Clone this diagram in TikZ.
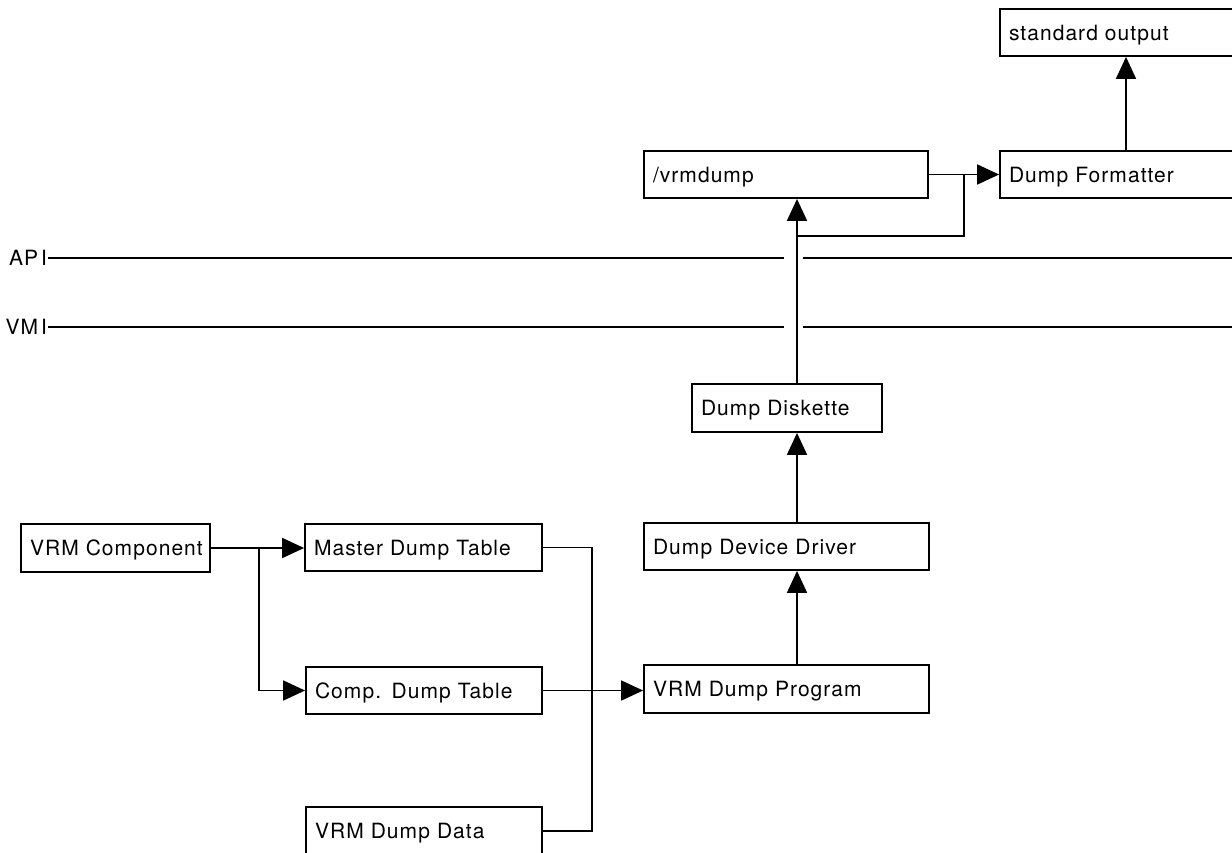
\documentclass[tikz,border=0pt]{standalone}
\usepackage{fontspec}
\setmainfont{TeX Gyre Heros}[LetterSpace=5]
\usetikzlibrary{arrows.meta}
\tikzset{
  diag/.style={x=0.5pt,y=-0.5pt,line width=0.9pt},
  box/.style={draw,line width=0.9pt,inner xsep=4.5pt,inner ysep=0pt,align=left,
    text height=9pt,text depth=1.5pt,font=\fontsize{10.5}{12}\selectfont},
  lbl/.style={inner sep=0pt,text height=7.5pt,text depth=0pt,font=\fontsize{10.5}{12}\selectfont},
  arr/.style={-{Triangle[length=11pt,width=10pt]}},
  conn/.style={line width=0.9pt}
}
\begin{document}
\begin{tikzpicture}[diag]
\useasboundingbox (0,0) rectangle (1232,852);
% boxes
\node[box,minimum width=120pt,minimum height=23.5pt,text width=111pt] (stdout) at (1120,32.5) {standard output};
\node[box,minimum width=120pt,minimum height=23.5pt,text width=111pt] (fmt) at (1120,174.5) {Dump Formatter};
\node[box,minimum width=142pt,minimum height=23.5pt,text width=133pt] (vrm) at (786,174.5) {/vrmdump};
\node[box,minimum width=95pt,minimum height=24pt,text width=86pt] (disk) at (787,408) {Dump Diskette};
\node[box,minimum width=142.5pt,minimum height=23.5pt,text width=133.5pt] (ddd) at (786.5,546.5) {Dump Device Driver};
\node[box,minimum width=142.5pt,minimum height=24pt,text width=133.5pt] (vdp) at (786.5,689) {VRM Dump Program};
\node[box,minimum width=94.5pt,minimum height=24pt,text width=85.5pt] (comp) at (115.5,548) {VRM Component};
\node[box,minimum width=118.5pt,minimum height=23.5pt,text width=109.5pt] (mdt) at (423.5,547.5) {Master Dump Table};
\node[box,minimum width=118pt,minimum height=23.5pt,text width=109pt] (cdt) at (424,690.5) {Comp. Dump Table};
\node[box,minimum width=118pt,minimum height=24pt,text width=109pt] (vdd) at (424,831) {VRM Dump Data};
% interface labels
\node[lbl,anchor=east] (api) at (48,258) {AP\kern1.5pt I};
\node[lbl,anchor=east] (vmi) at (48,327) {VM\kern1.5pt I};
% helper coordinates
\coordinate (gapL) at (784,0);
\coordinate (gapR) at (803,0);
\coordinate (edge) at (1232,0);
\coordinate (c1) at (797,0);
\coordinate (c2) at (1126,0);
\coordinate (j1) at (259,0);
\coordinate (bus) at (592,0);
\coordinate (j2) at (964,0);
\coordinate (ret) at (797,236);
% interface lines
\draw[conn] (api.east) -- (api.east -| gapL);
\draw[conn] (api.east -| gapR) -- (api.east -| edge);
\draw[conn] (vmi.east) -- (vmi.east -| gapL);
\draw[conn] (vmi.east -| gapR) -- (vmi.east -| edge);
% connectors
\draw[conn,arr] (comp.east) -- (comp.east -| mdt.west);
\draw[conn,arr] (comp.east -| j1) |- (cdt.west);
\draw[conn] (mdt.east) -| (bus |- vdd.east) -- (vdd.east);
\draw[conn,arr] (cdt.east) -- (cdt.east -| vdp.west);
\draw[conn,arr] (vdp.north -| c1) -- (ddd.south -| c1);
\draw[conn,arr] (ddd.north -| c1) -- (disk.south -| c1);
\draw[conn,arr] (disk.north -| c1) -- (vrm.south -| c1);
\draw[conn,arr] (vrm.east) -- (fmt.west);
\draw[conn] (vrm.east -| j2) |- (ret);
\draw[conn,arr] (fmt.north -| c2) -- (stdout.south -| c2);
\end{tikzpicture}
\end{document}
